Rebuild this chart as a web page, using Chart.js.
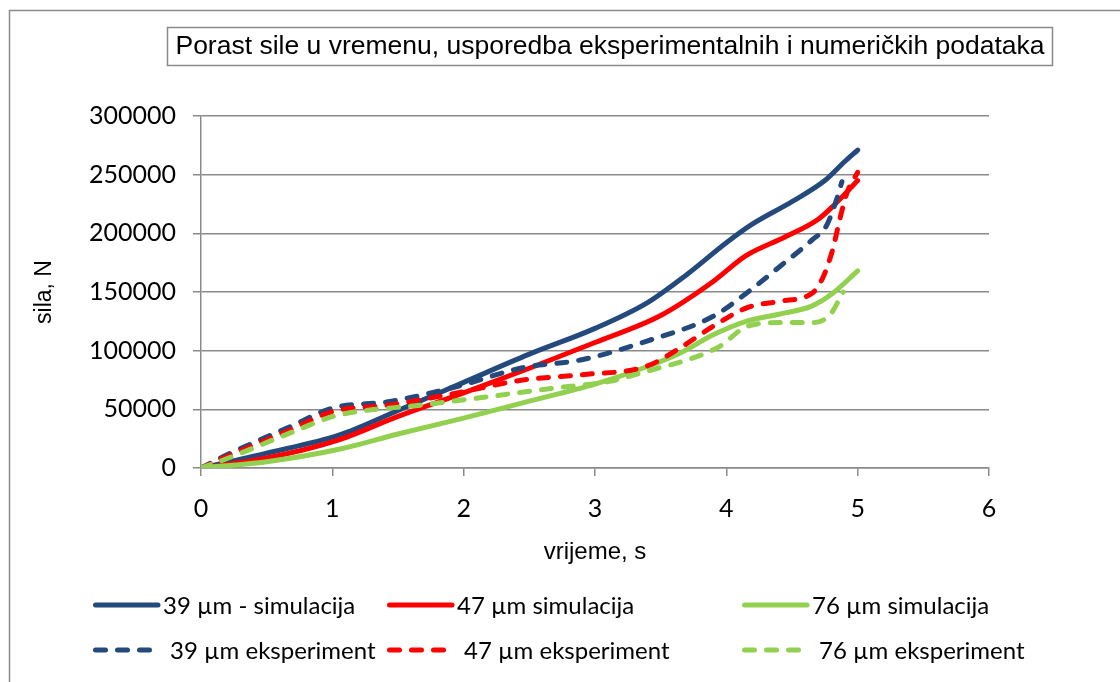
<!DOCTYPE html>
<html>
<head>
<meta charset="utf-8">
<script src="https://cdn.jsdelivr.net/npm/chart.js@4/dist/chart.umd.min.js"></script>
<style>
  body { margin: 0; background: #fff; }
  canvas { display: block; }
</style>
</head>
<body>
<canvas id="forceChart" width="1120" height="682"></canvas>
<script>
// Force vs. time, simulation and experiment for three grain sizes
const chartTitle = 'Porast sile u vremenu, usporedba eksperimentalnih i numeričkih podataka';
const seriesLabels = ['39 µm - simulacija', '47 µm simulacija', '76 µm simulacija',
                      '39 µm eksperiment', '47 µm eksperiment', '76 µm eksperiment'];

// simulation curves (time in s, force in N)
const sim39Time = [0, 0.5, 1.05, 1.5, 2, 2.5, 3, 3.4, 3.7, 4, 4.2, 4.5, 4.75, 4.9, 5];
const sim39Force = [0, 12700, 28000, 49000, 73000, 97000, 119000, 141000, 165000, 192000, 208000, 227000, 245000, 261000, 271000];

const sim47Time = [0, 0.5, 1.05, 1.5, 2, 2.5, 3, 3.5, 3.9, 4.15, 4.45, 4.7, 4.82, 5];
const sim47Force = [0, 8500, 24000, 44000, 64000, 85000, 107000, 130000, 159000, 181000, 197000, 212000, 224000, 245000];

const sim76Time = [0, 0.5, 1.05, 1.5, 2, 2.5, 3, 3.4, 3.65, 3.9, 4.15, 4.4, 4.65, 4.8, 5];
const sim76Force = [0, 5400, 16000, 29000, 42500, 57000, 71500, 86500, 98000, 113500, 125000, 131000, 138000, 148000, 168000];

// measured curves
const exp39Time = [0, 0.17, 0.68, 1.0, 1.44, 1.95, 2.45, 2.9, 3.39, 3.9, 4.16, 4.41, 4.66, 4.76, 4.84, 4.88];
const exp39Force = [0, 9700, 35300, 51000, 56700, 69500, 85500, 92300, 108000, 129300, 149600, 172000, 195000, 206000, 229000, 244000];

const exp47Time = [0, 0.17, 0.68, 1.0, 1.44, 1.95, 2.45, 2.9, 3.39, 3.65, 3.9, 4.16, 4.41, 4.66, 4.74, 4.81, 4.87, 4.92, 5];
const exp47Force = [0, 8500, 32500, 48000, 53800, 64000, 75000, 79500, 86600, 102500, 120800, 136700, 142100, 149600, 163500, 186300, 214800, 235000, 252000];

const exp76Time = [0, 0.17, 0.68, 1.0, 1.19, 1.69, 2.2, 2.71, 3.11, 3.39, 3.78, 3.95, 4.16, 4.41, 4.66, 4.79, 4.89];
const exp76Force = [0, 6800, 29900, 43800, 48000, 53800, 61000, 68400, 73800, 82300, 95100, 103700, 120800, 123900, 123900, 130700, 150000];

const blue = '#23497d';
const red = '#ff0000';
const green = '#92d050';

function points(xs, ys) {
    return xs.map((x, i) => ({ x: x, y: ys[i] }));
}

function series(label, xs, ys, color, dashed, order) {
    return {
        label: label,
        data: points(xs, ys),
        showLine: true,
        borderColor: color,
        backgroundColor: color,
        borderWidth: 5,
        borderDash: dashed ? [10, 12] : [],
        borderCapStyle: 'round',
        borderJoinStyle: 'round',
        pointRadius: 0,
        cubicInterpolationMode: 'monotone',
        order: order
    };
}

// outer frame, boxed title and the 3x2 legend underneath
const decorations = {
    id: 'decorations',
    afterDraw(chart) {
        const ctx = chart.ctx;
        ctx.save();
        ctx.strokeStyle = '#8a8a8a';
        ctx.lineWidth = 1.5;
        ctx.strokeRect(9.5, 10.5, 1300, 1000);

        ctx.font = '26.5px "Liberation Sans", Arial, sans-serif';
        ctx.fillStyle = '#000';
        ctx.textAlign = 'center';
        ctx.textBaseline = 'middle';
        const tw = ctx.measureText(chartTitle).width;
        const cx = 610;
        ctx.fillText(chartTitle, cx, 47);
        ctx.strokeRect(Math.round(cx - tw / 2 - 8) + 0.5, 27.5, Math.round(tw + 16), 38);

        const cols = [93, 387, 742];
        const rows = [605, 650];
        ctx.font = '24px Lato, "Liberation Sans", sans-serif';
        ctx.textAlign = 'left';
        chart.data.datasets.forEach((ds, i) => {
            const x = cols[i % 3];
            const y = rows[Math.floor(i / 3)];
            const dashed = ds.borderDash.length > 0;
            ctx.strokeStyle = ds.borderColor;
            ctx.lineWidth = ds.borderWidth;
            ctx.lineCap = 'round';
            ctx.setLineDash(ds.borderDash);
            ctx.beginPath();
            ctx.moveTo(x + 2.5, y);
            ctx.lineTo(x + (dashed ? 58 : 65), y);
            ctx.stroke();
            ctx.setLineDash([]);
            ctx.fillStyle = '#000';
            ctx.fillText(ds.label, x + (dashed ? 77 : 70), y + 1);
        });
        ctx.restore();
    }
};

const gridGrey = '#8a8a8a';

new Chart(document.getElementById('forceChart'), {
    type: 'scatter',
    data: {
        datasets: [
            series(seriesLabels[0], sim39Time, sim39Force, blue, false, 6),
            series(seriesLabels[1], sim47Time, sim47Force, red, false, 5),
            series(seriesLabels[2], sim76Time, sim76Force, green, false, 4),
            series(seriesLabels[3], exp39Time, exp39Force, blue, true, 3),
            series(seriesLabels[4], exp47Time, exp47Force, red, true, 2),
            series(seriesLabels[5], exp76Time, exp76Force, green, true, 1)
        ]
    },
    options: {
        responsive: false,
        animation: false,
        devicePixelRatio: 1,
        layout: { padding: { left: 0, right: 131, top: 116, bottom: 114 } },
        plugins: {
            legend: { display: false },
            tooltip: { enabled: false }
        },
        scales: {
            x: {
                type: 'linear',
                min: 0,
                max: 6,
                ticks: {
                    stepSize: 1,
                    color: '#000',
                    padding: 18,
                    font: { family: 'Lato', size: 25 }
                },
                grid: { drawOnChartArea: false, color: gridGrey, lineWidth: 1.5, tickLength: 8 },
                border: { color: gridGrey, width: 1.5 },
                title: {
                    display: true,
                    text: 'vrijeme, s',
                    color: '#000',
                    padding: { top: 0, bottom: 1 },
                    font: { family: '"Liberation Sans"', size: 24 }
                },
                afterFit(scale) { scale.height = 100; }
            },
            y: {
                type: 'linear',
                min: 0,
                max: 300000,
                ticks: {
                    stepSize: 50000,
                    color: '#000',
                    padding: 17,
                    font: { family: 'Lato', size: 25 },
                    callback: (value) => String(value)
                },
                grid: { color: gridGrey, lineWidth: 1.5, tickLength: 8 },
                border: { color: gridGrey, width: 1.5 },
                title: {
                    display: true,
                    text: 'sila, N',
                    color: '#000',
                    padding: { top: 31, bottom: 0 },
                    font: { family: '"Liberation Sans"', size: 23 }
                },
                afterFit(scale) { scale.width = 201; }
            }
        }
    },
    plugins: [decorations]
});
</script>
</body>
</html>
